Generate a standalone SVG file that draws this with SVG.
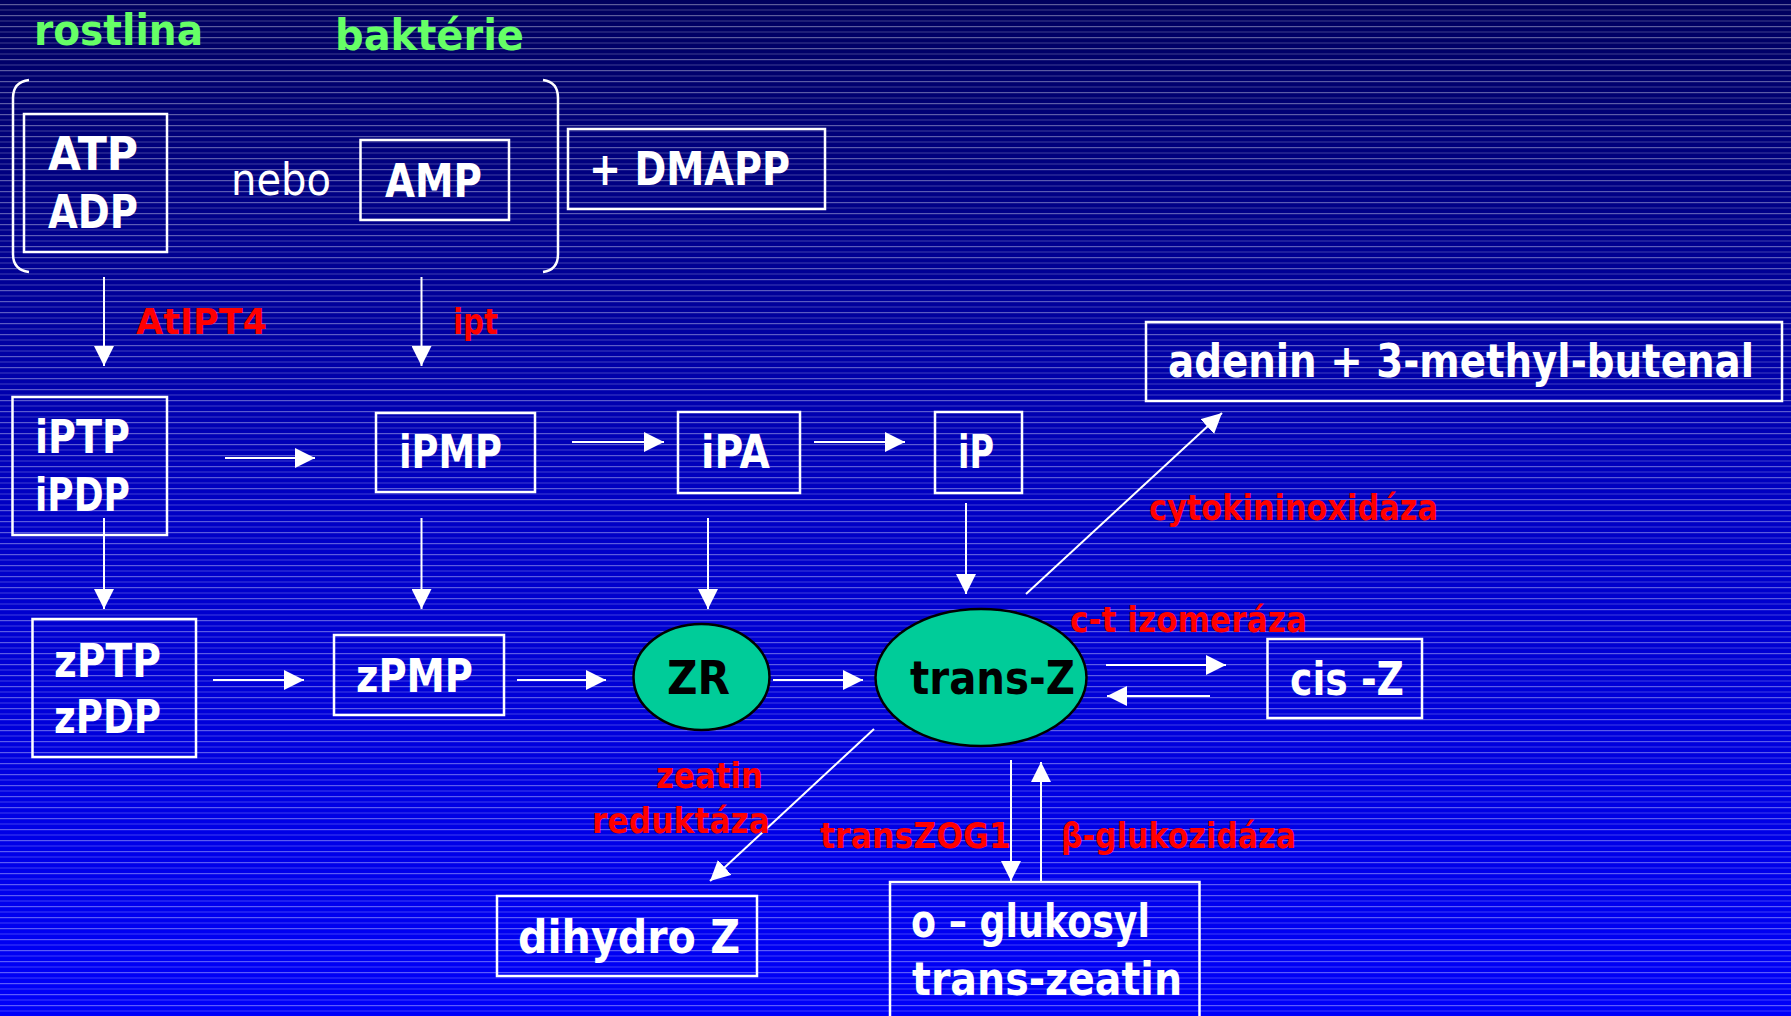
<svg xmlns="http://www.w3.org/2000/svg" width="1791" height="1016" viewBox="0 0 1791 1016">
  <defs>
    <linearGradient id="bg" x1="0" y1="0" x2="0" y2="1">
      <stop offset="0" stop-color="#00005e"/>
      <stop offset="0.5" stop-color="#0000c4"/>
      <stop offset="1" stop-color="#0000fa"/>
    </linearGradient>
    <pattern id="stripes" x="0" y="0" width="40" height="11" patternUnits="userSpaceOnUse">
      <rect x="0" y="4" width="40" height="1.2" fill="#ffffff" opacity="0.36"/>
      <rect x="0" y="9.5" width="40" height="1" fill="#ffffff" opacity="0.24"/>
    </pattern>
    <marker id="head" markerUnits="userSpaceOnUse" markerWidth="20" markerHeight="20" refX="20" refY="10" orient="auto" viewBox="0 0 20 20">
      <path d="M0,0 L20,10 L0,20 z" fill="#ffffff"/>
    </marker>
    <style>
      .box { fill: none; stroke: #ffffff; stroke-width: 2.5; }
      .oval { fill: #00cc99; stroke: #000000; stroke-width: 2.5; }
      .wt { font-family: "DejaVu Sans", "Liberation Sans", sans-serif; font-weight: bold; font-size: 46px; fill: #ffffff; }
      .bk { font-family: "DejaVu Sans", "Liberation Sans", sans-serif; font-weight: bold; font-size: 46px; fill: #000000; }
      .thin { font-family: "DejaVu Sans", "Liberation Sans", sans-serif; font-size: 44px; fill: #ffffff; }
      .grn { font-family: "DejaVu Sans", "Liberation Sans", sans-serif; font-weight: bold; font-size: 42px; fill: #66ff66; }
      .red { font-family: "DejaVu Sans", "Liberation Sans", sans-serif; font-weight: bold; font-size: 35px; fill: #ff0000; }
      .conn line { stroke: #ffffff; stroke-width: 2; marker-end: url(#head); }
      .bracket { fill: none; stroke: #ffffff; stroke-width: 2.5; }
    </style>
  </defs>

  <!-- background -->
  <rect x="0" y="0" width="1791" height="1016" fill="url(#bg)"/>
  <rect x="0" y="0" width="1791" height="1016" fill="url(#stripes)"/>

  <!-- group headings -->
  <text class="grn" x="34" y="45" textLength="169" lengthAdjust="spacingAndGlyphs">rostlina</text>
  <text class="grn" x="335" y="50" textLength="189" lengthAdjust="spacingAndGlyphs">baktérie</text>

  <!-- bracket around the precursors -->
  <path class="bracket" d="M29,80 Q13,82 13,98 L13,254 Q13,270 29,272"/>
  <path class="bracket" d="M543,80 Q558,82 558,98 L558,254 Q558,270 543,272"/>

  <!-- connectors -->
  <g id="connectors" class="conn">
    <line x1="104" y1="277" x2="104" y2="366"/>
    <line x1="421.5" y1="277" x2="421.5" y2="366"/>
    <line x1="225" y1="458" x2="315" y2="458"/>
    <line x1="572" y1="442" x2="664" y2="442"/>
    <line x1="814" y1="442" x2="905" y2="442"/>
    <line x1="104" y1="518" x2="104" y2="609"/>
    <line x1="421.5" y1="518" x2="421.5" y2="609"/>
    <line x1="708" y1="518" x2="708" y2="609"/>
    <line x1="966" y1="503" x2="966" y2="594"/>
    <line x1="1026" y1="594" x2="1222" y2="413"/>
    <line x1="213" y1="680" x2="304" y2="680"/>
    <line x1="517" y1="680" x2="606" y2="680"/>
    <line x1="773" y1="680" x2="863" y2="680"/>
    <line x1="1106" y1="665" x2="1226" y2="665"/>
    <line x1="1210" y1="696" x2="1107" y2="696"/>
    <line x1="874" y1="729" x2="710" y2="881"/>
    <line x1="1011" y1="760" x2="1011" y2="881"/>
    <line x1="1041" y1="882" x2="1041" y2="762"/>
  </g>

  <!-- enzyme labels -->
  <g id="enzymes">
    <text class="red" x="136" y="334" textLength="131" lengthAdjust="spacingAndGlyphs">AtIPT4</text>
    <text class="red" x="453" y="334" textLength="45" lengthAdjust="spacingAndGlyphs">ipt</text>
    <text class="red" x="1149" y="520" textLength="289" lengthAdjust="spacingAndGlyphs">cytokininoxidáza</text>
    <text class="red" x="1070" y="632" textLength="237" lengthAdjust="spacingAndGlyphs">c-t izomeráza</text>
    <text class="red" x="656" y="788" textLength="107" lengthAdjust="spacingAndGlyphs">zeatin</text>
    <text class="red" x="592" y="833" textLength="178" lengthAdjust="spacingAndGlyphs">reduktáza</text>
    <text class="red" x="820" y="848" textLength="191" lengthAdjust="spacingAndGlyphs">transZOG1</text>
    <text class="red" x="1061" y="848" textLength="235" lengthAdjust="spacingAndGlyphs">β-glukozidáza</text>
  </g>

  <!-- nodes -->
  <g id="atp-adp">
    <rect class="box" x="24" y="114" width="143" height="138"/>
    <text class="wt" x="48" y="170" textLength="90" lengthAdjust="spacingAndGlyphs">ATP</text>
    <text class="wt" x="48" y="228" textLength="90" lengthAdjust="spacingAndGlyphs">ADP</text>
  </g>
  <text class="thin" x="231" y="195" textLength="100" lengthAdjust="spacingAndGlyphs">nebo</text>
  <g id="amp">
    <rect class="box" x="360.5" y="140" width="148.5" height="80"/>
    <text class="wt" x="385" y="197" textLength="97" lengthAdjust="spacingAndGlyphs">AMP</text>
  </g>
  <g id="dmapp">
    <rect class="box" x="568" y="129" width="257" height="80"/>
    <text class="wt" x="589" y="185" textLength="201" lengthAdjust="spacingAndGlyphs">+ DMAPP</text>
  </g>
  <g id="adenin">
    <rect class="box" x="1146" y="322" width="636" height="79"/>
    <!-- long label: set smaller and stretched vertically so it fits its box -->
    <text class="wt" transform="translate(1168,377) scale(1,1.35)" x="0" y="0" style="font-size:34px" textLength="586" lengthAdjust="spacingAndGlyphs">adenin + 3-methyl-butenal</text>
  </g>
  <g id="iptp-ipdp">
    <rect class="box" x="12.5" y="397" width="154.5" height="138"/>
    <text class="wt" x="35" y="453" textLength="95" lengthAdjust="spacingAndGlyphs">iPTP</text>
    <text class="wt" x="35" y="511" textLength="95" lengthAdjust="spacingAndGlyphs">iPDP</text>
  </g>
  <g id="ipmp">
    <rect class="box" x="376" y="413" width="159" height="79"/>
    <text class="wt" x="399" y="468" textLength="103" lengthAdjust="spacingAndGlyphs">iPMP</text>
  </g>
  <g id="ipa">
    <rect class="box" x="678" y="412" width="122" height="81"/>
    <text class="wt" x="701" y="468" textLength="69" lengthAdjust="spacingAndGlyphs">iPA</text>
  </g>
  <g id="ip">
    <rect class="box" x="935" y="412" width="87" height="81"/>
    <text class="wt" x="958" y="468" textLength="36" lengthAdjust="spacingAndGlyphs">iP</text>
  </g>
  <g id="zptp-zpdp">
    <rect class="box" x="32.5" y="619" width="163.5" height="138"/>
    <text class="wt" x="54" y="677" textLength="107" lengthAdjust="spacingAndGlyphs">zPTP</text>
    <text class="wt" x="54" y="733" textLength="107" lengthAdjust="spacingAndGlyphs">zPDP</text>
  </g>
  <g id="zpmp">
    <rect class="box" x="334" y="635" width="170" height="80"/>
    <text class="wt" x="356" y="692" textLength="117" lengthAdjust="spacingAndGlyphs">zPMP</text>
  </g>
  <g id="zr">
    <ellipse class="oval" cx="701.5" cy="677" rx="68" ry="53"/>
    <text class="bk" x="667" y="694" textLength="63" lengthAdjust="spacingAndGlyphs">ZR</text>
  </g>
  <g id="trans-z">
    <ellipse class="oval" cx="981" cy="677.5" rx="105.5" ry="68.5"/>
    <text class="bk" x="910" y="694" textLength="165" lengthAdjust="spacingAndGlyphs">trans-Z</text>
  </g>
  <g id="cis-z">
    <rect class="box" x="1267.5" y="639" width="154.5" height="79"/>
    <text class="wt" x="1290" y="695" textLength="114" lengthAdjust="spacingAndGlyphs">cis -Z</text>
  </g>
  <g id="dihydro-z">
    <rect class="box" x="497" y="896" width="260" height="80"/>
    <text class="wt" x="518" y="953" textLength="222" lengthAdjust="spacingAndGlyphs">dihydro Z</text>
  </g>
  <g id="o-glukosyl">
    <rect class="box" x="890" y="882" width="309.5" height="150"/>
    <text class="wt" x="911" y="937" textLength="239" lengthAdjust="spacingAndGlyphs">o – glukosyl</text>
    <text class="wt" x="912" y="995" textLength="270" lengthAdjust="spacingAndGlyphs">trans-zeatin</text>
  </g>
</svg>
